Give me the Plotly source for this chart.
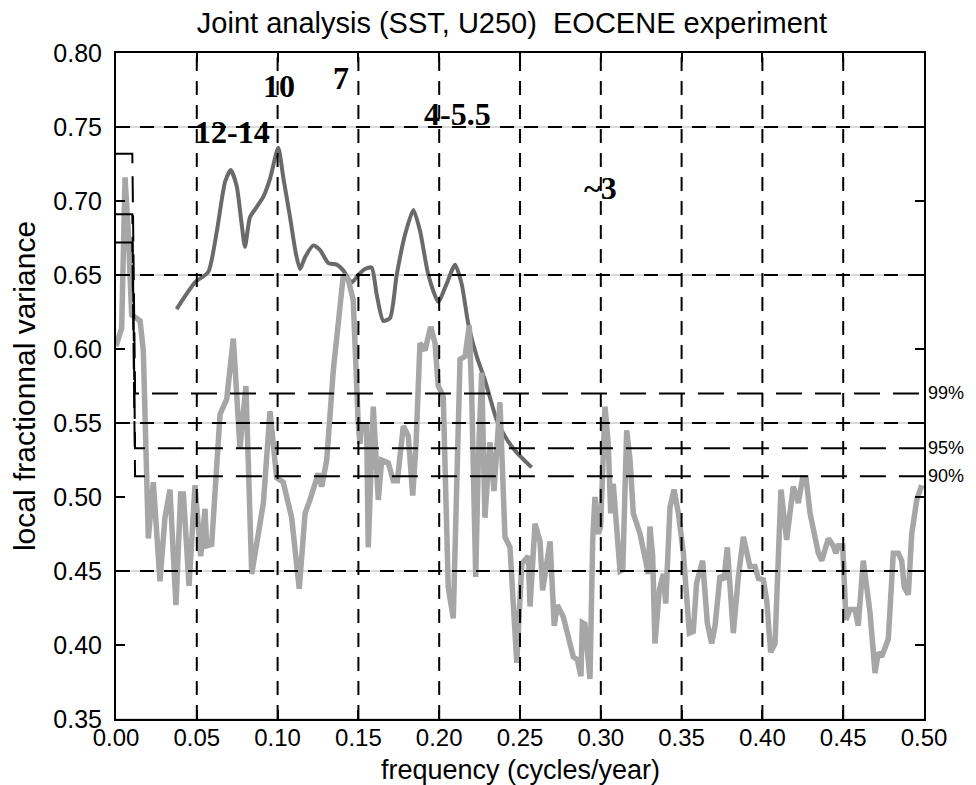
import plotly.graph_objects as go

# ---------------- data ----------------
light_freq = [0.000, 0.0035, 0.0056, 0.0076, 0.0097, 0.0128, 0.0149, 0.0169, 0.0200, 0.0231,
              0.0272, 0.0303, 0.0334, 0.0371, 0.0400, 0.0417, 0.0452, 0.0489, 0.0524, 0.0551,
              0.0561, 0.0592, 0.0644, 0.0685, 0.0726, 0.0767, 0.0804, 0.0840, 0.0870, 0.0912,
              0.0953, 0.0994, 0.1035, 0.1087, 0.1134, 0.1170, 0.1200, 0.1252, 0.1273, 0.1304,
              0.1345, 0.1407, 0.1437, 0.1468, 0.1499, 0.1510, 0.1520, 0.1551, 0.1561, 0.1592,
              0.1623, 0.1644, 0.1685, 0.1716, 0.1741, 0.1778, 0.1809, 0.1836, 0.1856, 0.1881,
              0.1912, 0.1947, 0.1974, 0.1994, 0.2025, 0.2056, 0.2087, 0.2108, 0.2129, 0.2160,
              0.2186, 0.2201, 0.2226, 0.2242, 0.2263, 0.2283, 0.2314, 0.2339, 0.2376, 0.2407,
              0.2438, 0.2480, 0.2511, 0.2551, 0.2562, 0.2593, 0.2624, 0.2640, 0.2686, 0.2712,
              0.2731, 0.2768, 0.2830, 0.2855, 0.2877, 0.2886, 0.2902, 0.2933, 0.2950, 0.2964,
              0.2985, 0.2999, 0.3026, 0.3046, 0.3061, 0.3077, 0.3119, 0.3136, 0.3160, 0.3181,
              0.3201, 0.3243, 0.3274, 0.3294, 0.3304, 0.3321, 0.3335, 0.3362, 0.3387, 0.3402,
              0.3428, 0.3453, 0.3480, 0.3511, 0.3548, 0.3572, 0.3593, 0.3630, 0.3659, 0.3686,
              0.3707, 0.3738, 0.3762, 0.3783, 0.3820, 0.3851, 0.3882, 0.3903, 0.3923, 0.3954,
              0.3975, 0.4006, 0.4027, 0.4051, 0.4078, 0.4115, 0.4150, 0.4191, 0.4222, 0.4249,
              0.4270, 0.4295, 0.4346, 0.4367, 0.4408, 0.4439, 0.4455, 0.4470, 0.4497, 0.4517,
              0.4542, 0.4573, 0.4593, 0.4624, 0.4666, 0.4697, 0.4717, 0.4738, 0.4779, 0.4810,
              0.4841, 0.4862, 0.4878, 0.4903, 0.4924, 0.4955, 0.4986]
light_var = [0.602, 0.614, 0.716, 0.679, 0.623, 0.620, 0.619, 0.599, 0.472, 0.510,
             0.443, 0.486, 0.505, 0.427, 0.502, 0.502, 0.440, 0.508, 0.460, 0.492,
             0.467, 0.468, 0.556, 0.566, 0.607, 0.533, 0.575, 0.448, 0.467, 0.496,
             0.558, 0.513, 0.510, 0.486, 0.438, 0.489, 0.498, 0.516, 0.507, 0.525,
             0.586, 0.650, 0.647, 0.633, 0.550, 0.536, 0.548, 0.548, 0.466, 0.561,
             0.498, 0.525, 0.523, 0.511, 0.511, 0.548, 0.541, 0.501, 0.534, 0.604,
             0.599, 0.615, 0.604, 0.575, 0.568, 0.439, 0.418, 0.502, 0.593, 0.595,
             0.616, 0.570, 0.446, 0.525, 0.584, 0.486, 0.537, 0.504, 0.564, 0.473,
             0.466, 0.388, 0.455, 0.460, 0.426, 0.482, 0.470, 0.437, 0.470, 0.413,
             0.427, 0.419, 0.392, 0.390, 0.379, 0.415, 0.414, 0.377, 0.471, 0.500,
             0.475, 0.480, 0.561, 0.536, 0.489, 0.509, 0.450, 0.451, 0.545, 0.525,
             0.489, 0.475, 0.457, 0.448, 0.480, 0.460, 0.401, 0.437, 0.448, 0.428,
             0.493, 0.505, 0.489, 0.462, 0.408, 0.409, 0.442, 0.457, 0.415, 0.401,
             0.413, 0.447, 0.444, 0.466, 0.408, 0.446, 0.473, 0.464, 0.453, 0.453,
             0.445, 0.444, 0.430, 0.395, 0.401, 0.505, 0.471, 0.507, 0.496, 0.513,
             0.513, 0.489, 0.462, 0.457, 0.472, 0.467, 0.462, 0.467, 0.467, 0.417,
             0.424, 0.424, 0.413, 0.457, 0.422, 0.381, 0.395, 0.392, 0.404, 0.462,
             0.462, 0.457, 0.439, 0.434, 0.475, 0.498, 0.508]

dark_freq = [0.0375, 0.0489, 0.0571, 0.0623, 0.0675, 0.0710, 0.0747, 0.0778, 0.0798, 0.0829,
             0.0871, 0.0912, 0.0953, 0.1004, 0.1035, 0.1077, 0.1114, 0.1139, 0.1170, 0.1221,
             0.1262, 0.1314, 0.1366, 0.1407, 0.1459, 0.1499, 0.1541, 0.1582, 0.1613, 0.1654,
             0.1696, 0.1737, 0.1788, 0.1840, 0.1881, 0.1933, 0.1994, 0.2046, 0.2098, 0.2139,
             0.2180, 0.2232, 0.2283, 0.2325, 0.2356, 0.2418, 0.2480, 0.2572]
dark_var = [0.627, 0.645, 0.652, 0.679, 0.713, 0.721, 0.710, 0.684, 0.669, 0.689,
            0.696, 0.703, 0.715, 0.736, 0.716, 0.689, 0.664, 0.654, 0.662, 0.670,
            0.667, 0.658, 0.657, 0.653, 0.645, 0.650, 0.654, 0.655, 0.637, 0.619,
            0.621, 0.650, 0.677, 0.694, 0.680, 0.650, 0.632, 0.644, 0.657, 0.644,
            0.617, 0.595, 0.579, 0.563, 0.552, 0.539, 0.530, 0.520]

sig_freq = [0.0, 0.0101, 0.0118, 0.5]
sig_99 = [0.732, 0.732, 0.570, 0.570]
sig_95 = [0.691, 0.691, 0.533, 0.533]
sig_90 = [0.672, 0.672, 0.514, 0.514]
sig_labels = ["99%", "95%", "90%"]

grid_freq = [0.05, 0.10, 0.15, 0.20, 0.25, 0.30, 0.35, 0.40, 0.45]
grid_var = [0.45, 0.55, 0.65, 0.75]
grid_var_light = [0.35, 0.45, 0.55, 0.65, 0.75]

period_labels = ["12-14", "10", "7", "4-5.5", "~3"]
period_freq = [0.0718, 0.1009, 0.1390, 0.2116, 0.3000]
period_var = [0.7466, 0.7777, 0.7830, 0.7588, 0.7090]

x_ticks = [0.00, 0.05, 0.10, 0.15, 0.20, 0.25, 0.30, 0.35, 0.40, 0.45, 0.50]
y_ticks = [0.35, 0.40, 0.45, 0.50, 0.55, 0.60, 0.65, 0.70, 0.75, 0.80]
x_range = [0.0, 0.5]
y_range = [0.35, 0.80]

title_text = "Joint analysis (SST, U250)\u00a0 EOCENE experiment"
x_title = "frequency (cycles/year)"
y_title = "local fractionnal variance"

# ---------------- figure ----------------
SANS = "Liberation Sans, Arial, sans-serif"
SERIF = "Liberation Serif, Times New Roman, serif"

def hlines(values):
    xs, ys = [], []
    for v in values:
        xs += [x_range[0], x_range[1], None]
        ys += [v, v, None]
    return xs, ys

def vlines(values):
    xs, ys = [], []
    for v in values:
        xs += [v, v, None]
        ys += [y_range[0], y_range[1], None]
    return xs, ys

fig = go.Figure()

gx, gy = hlines(grid_var_light)
fig.add_trace(go.Scatter(x=gx, y=gy, mode="lines",
                         line=dict(color="#b4b4b4", width=1), hoverinfo="skip"))

fig.add_trace(go.Scatter(x=dark_freq, y=dark_var, mode="lines",
                         line=dict(color="#6a6a6a", width=4, shape="spline", smoothing=0.6)))

fig.add_trace(go.Scatter(x=light_freq, y=light_var, mode="lines",
                         line=dict(color="#a6a6a6", width=5.5)))

vx, vy = vlines(grid_freq)
fig.add_trace(go.Scatter(x=vx, y=vy, mode="lines",
                         line=dict(color="black", width=2, dash="14px,10px"), hoverinfo="skip"))
hx, hy = hlines(grid_var)
fig.add_trace(go.Scatter(x=hx, y=hy, mode="lines",
                         line=dict(color="black", width=2, dash="14px,10px"), hoverinfo="skip"))

for sig in (sig_99, sig_95, sig_90):
    fig.add_trace(go.Scatter(x=sig_freq, y=sig, mode="lines",
                             line=dict(color="black", width=2, dash="26px,13px")))

for lab, sig in zip(sig_labels, (sig_99, sig_95, sig_90)):
    fig.add_annotation(x=1, xref="paper", y=sig[-1], yref="y", text=lab,
                       xanchor="left", yanchor="middle", xshift=3, showarrow=False,
                       borderpad=0, font=dict(family=SANS, size=18, color="black"))

for lab, fx, fy in zip(period_labels, period_freq, period_var):
    fig.add_annotation(x=fx, y=fy, xref="x", yref="y", text=lab, showarrow=False,
                       xanchor="center", yanchor="middle",
                       font=dict(family=SERIF, size=32, color="black", weight="bold"))

# x-axis title placed as a centred annotation just under the tick labels
fig.add_annotation(x=0.5, xref="paper", y=0, yref="paper", yanchor="top", yshift=-35,
                   text=x_title, showarrow=False, borderpad=0,
                   font=dict(family=SANS, size=27, color="black"))

axis_common = dict(showline=True, linecolor="black", linewidth=2, mirror="ticks",
                   ticks="inside", ticklen=9, tickwidth=2, tickcolor="black",
                   showgrid=False, zeroline=False, tickformat=".2f")

# the page adds an 8 px body margin, so the figure is sized to fit inside the window
fig.update_layout(
    width=960, height=777,
    margin=dict(l=108, r=44, t=45, b=66),
    paper_bgcolor="white", plot_bgcolor="white",
    showlegend=False,
    title=dict(text=title_text, x=0.49, xref="paper", xanchor="center",
               y=0.981, yref="container", yanchor="middle",
               font=dict(family=SANS, size=29, color="black")),
    xaxis=dict(range=x_range, tickvals=x_ticks, ticklabelstandoff=-4,
               tickfont=dict(family=SANS, size=24, color="black"),
               automargin=False, **axis_common),
    yaxis=dict(range=y_range, tickvals=y_ticks, ticklabelstandoff=7,
               tickfont=dict(family=SANS, size=25, color="black"),
               title=dict(text=y_title, standoff=12,
                          font=dict(family=SANS, size=30, color="black")),
               automargin=False, **axis_common),
)

fig.write_html("out.html")
